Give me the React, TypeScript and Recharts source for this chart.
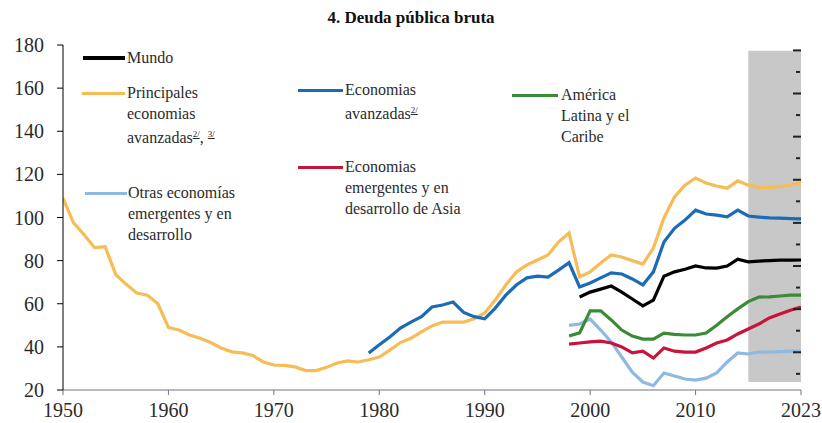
import React from "react";
import { LineChart, Line, XAxis, YAxis, ReferenceArea } from "recharts";

const years: number[] = Array.from({ length: 71 }, (_, i) => 1950 + i);

// Principales economías avanzadas (1950-2020)
const principales: (number | null)[] = [
  109, 97.5, 92, 86, 86.5, 73.5, 69, 65, 64, 60,
  49, 47.8, 45.5, 44, 42, 39.5, 37.7, 37.2, 36, 33,
  31.6, 31.4, 30.7, 29, 29, 30.5, 32.5, 33.5, 33, 34,
  35.3, 38.5, 42, 44, 47, 49.7, 51.5, 51.5, 51.5, 53,
  55.7, 61.7, 68.7, 74.7, 78, 80.3, 82.6, 88.6, 92.8, 72.4,
  74.8, 78.9, 82.6, 81.7, 80, 78.4, 85.8, 99.8, 109.5, 115,
  118.3, 116, 114.6, 113.6, 117, 115, 114, 114, 114.3, 115,
  116,
];

// Economías avanzadas (1979-2020)
const avanzadasStart = 1979;
const avanzadas: number[] = [
  37.2, 41, 44.6, 48.7, 51.5, 54, 58.5, 59.4, 60.8, 56,
  54, 53, 58, 64, 68.7, 72, 72.8, 72.4, 75.6, 79,
  67.8, 69.6, 72, 74.3, 73.8, 71.5, 68.7, 74.8, 88.6, 95,
  98.8, 103.4, 101.6, 101.1, 100.3, 103.4, 100.7, 100.2, 99.8, 99.7,
  99.5, 99.4,
];

// Mundo (1999-2020)
const mundoStart = 1999;
const mundo: number[] = [
  63.1, 65.4, 66.8, 68.2, 65.4, 62.2, 59, 61.7, 72.8, 74.8,
  76, 77.5, 76.6, 76.5, 77.5, 80.7, 79.4, 79.8, 80, 80.2,
  80.2, 80.3,
];

// América Latina y el Caribe (1998-2020)
const latamStart = 1998;
const latam: number[] = [
  45, 46.5, 56.7, 56.7, 52.5, 47.8, 45, 43.6, 43.6, 46.4,
  45.8, 45.5, 45.5, 46.4, 50, 54, 57.6, 61, 63.1, 63.2,
  63.6, 64, 64,
];

// Economías emergentes y en desarrollo de Asia (1998-2020)
const asiaStart = 1998;
const asia: number[] = [
  41.3, 41.8, 42.3, 42.7, 41.8, 40, 37.2, 38, 34.8, 39.5,
  38, 37.6, 37.6, 39.5, 41.8, 43.2, 46, 48.3, 50.6, 53.4,
  55.2, 57, 58.5,
];

// Otras economías emergentes y en desarrollo (1998-2020)
const otrasStart = 1998;
const otras: number[] = [
  50, 50.6, 52.9, 47.8, 42.3, 35.3, 28.3, 23.7, 22, 27.9,
  26.5, 25.1, 24.6, 25.5, 27.9, 33, 37.2, 36.7, 37.6, 37.6,
  37.8, 38, 38,
];

const xTicks = [1950, 1960, 1970, 1980, 1990, 2000, 2010, 2020];
const xTickLabels = ["1950", "1960", "1970", "1980", "1990", "2000", "2010", "2023"];
const yTicks = [20, 40, 60, 80, 100, 120, 140, 160, 180];
const rightLongTicks = [177.5, 157.5, 137.5, 117.5, 97.5, 77.5, 57.5, 37.5];
const rightShortTicks = [167.5, 147.5, 127.5, 107.5, 87.5, 67.5, 47.5, 27.5];

const projStart = 2015;
const projEnd = 2020;
const projLow = 23.7;
const projHigh = 177.3;

const pick = (arr: number[], start: number, y: number) => {
  const i = y - start;
  return i >= 0 && i < arr.length ? arr[i] : null;
};

const data = years.map((y, i) => ({
  year: y,
  principales: principales[i] ?? null,
  avanzadas: pick(avanzadas, avanzadasStart, y),
  mundo: pick(mundo, mundoStart, y),
  latam: pick(latam, latamStart, y),
  asia: pick(asia, asiaStart, y),
  otras: pick(otras, otrasStart, y),
}));

const C = {
  mundo: "#000000",
  principales: "#F6BC56",
  avanzadas: "#1C6BB6",
  latam: "#3A8B35",
  asia: "#C8143A",
  otras: "#8DB9E3",
};

const FONT = "'Liberation Serif', 'Times New Roman', serif";
const TXT = "#2b2b2b";

const Sup = ({ t }: { t: string }) => (
  <sup style={{ fontSize: 9, textDecoration: "underline" }}>{t}</sup>
);

type LegItem = {
  color: string;
  x1: number;
  x2: number;
  y: number;
  tx: number;
  lines: React.ReactNode[];
  thick?: number;
};

const legend: LegItem[] = [
  { color: C.mundo, x1: 83, x2: 125, y: 58, tx: 127, lines: ["Mundo"], thick: 4 },
  {
    color: C.principales, x1: 82, x2: 125, y: 93, tx: 127,
    lines: ["Principales", "economias", <span key="a">avanzadas<Sup t="2/" />, <Sup t="3/" /></span>],
  },
  {
    color: C.otras, x1: 85, x2: 127, y: 193, tx: 128,
    lines: ["Otras economías", "emergentes y en", "desarrollo"],
  },
  {
    color: C.avanzadas, x1: 298, x2: 343, y: 90, tx: 345,
    lines: ["Economias", <span key="b">avanzadas<Sup t="2/" /></span>],
  },
  {
    color: C.asia, x1: 298, x2: 343, y: 167, tx: 345,
    lines: ["Economias", "emergentes y en", "desarrollo de Asia"],
  },
  {
    color: C.latam, x1: 512, x2: 558, y: 95, tx: 561,
    lines: ["América", "Latina y el", "Caribe"],
  },
];

const NoLabel = () => <g />;

export default function App() {
  const tickStyle = { fontFamily: FONT, fontSize: 20, fill: TXT };
  return (
    <div style={{ position: "absolute", left: 0, top: 0, width: 822, height: 423, background: "#fff", fontFamily: FONT }}>
      <div
        style={{
          position: "absolute", left: 0, top: 7, width: 822, textAlign: "center",
          fontWeight: "bold", fontSize: 17, color: "#111", lineHeight: "22px",
        }}
      >
        4. Deuda pública bruta
      </div>
      <LineChart
        width={822}
        height={423}
        data={data}
        margin={{ top: 45, right: 21, bottom: 0, left: 0 }}
      >
        <ReferenceArea
          x1={projStart}
          x2={projEnd}
          y1={projLow}
          y2={projHigh}
          fill="#C8C8C8"
          fillOpacity={1}
          stroke="none"
        />
        <XAxis
          dataKey="year"
          type="number"
          domain={[1950, 2020]}
          ticks={xTicks}
          tickFormatter={(v: number) => xTickLabels[xTicks.indexOf(v)] ?? String(v)}
          height={33}
          tickSize={5}
          tickMargin={8}
          stroke="#6f7480"
          tick={tickStyle}
          interval={0}
          allowDataOverflow
        />
        <YAxis
          type="number"
          domain={[20, 180]}
          ticks={yTicks}
          width={63}
          tickSize={6}
          tickMargin={13}
          stroke="#000"
          tick={tickStyle}
          interval={0}
          allowDataOverflow
        />
        <YAxis
          yAxisId="rl"
          orientation="right"
          type="number"
          domain={[20, 180]}
          ticks={rightLongTicks}
          width={1}
          mirror
          tick={NoLabel}
          axisLine={false}
          tickSize={8}
          tickLine={{ stroke: "#222", strokeWidth: 2 }}
          interval={0}
          allowDataOverflow
        />
        <YAxis
          yAxisId="rs"
          orientation="right"
          type="number"
          domain={[20, 180]}
          ticks={rightShortTicks}
          width={1}
          mirror
          tick={NoLabel}
          axisLine={false}
          tickSize={4}
          tickLine={{ stroke: "#222", strokeWidth: 2 }}
          interval={0}
          allowDataOverflow
        />
        <Line yAxisId="rl" dataKey="principales" stroke="none" strokeWidth={0} dot={false} activeDot={false} isAnimationActive={false} legendType="none" />
        <Line yAxisId="rs" dataKey="principales" stroke="none" strokeWidth={0} dot={false} activeDot={false} isAnimationActive={false} legendType="none" />
        <Line dataKey="principales" stroke={C.principales} strokeWidth={3.2} dot={false} isAnimationActive={false} />
        <Line dataKey="avanzadas" stroke={C.avanzadas} strokeWidth={3.2} dot={false} isAnimationActive={false} />
        <Line dataKey="otras" stroke={C.otras} strokeWidth={3.2} dot={false} isAnimationActive={false} />
        <Line dataKey="asia" stroke={C.asia} strokeWidth={3.2} dot={false} isAnimationActive={false} />
        <Line dataKey="latam" stroke={C.latam} strokeWidth={3.2} dot={false} isAnimationActive={false} />
        <Line dataKey="mundo" stroke={C.mundo} strokeWidth={3.2} dot={false} isAnimationActive={false} />
      </LineChart>
      {legend.map((it, k) => (
        <React.Fragment key={k}>
          <div
            style={{
              position: "absolute", left: it.x1, top: it.y - (it.thick ?? 3) / 2,
              width: it.x2 - it.x1, height: it.thick ?? 3, background: it.color,
            }}
          />
          <div
            style={{
              position: "absolute", left: it.tx, top: it.y - 11, fontSize: 16,
              lineHeight: "21px", color: TXT, whiteSpace: "nowrap",
            }}
          >
            {it.lines.map((l, j) => (
              <div key={j}>{l}</div>
            ))}
          </div>
        </React.Fragment>
      ))}
    </div>
  );
}
